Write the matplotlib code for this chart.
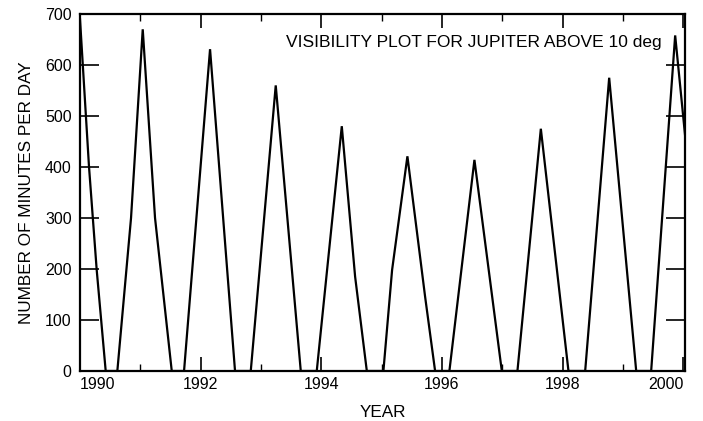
import matplotlib
matplotlib.use("Agg")
import matplotlib.pyplot as plt
from matplotlib.ticker import MultipleLocator

plt.rcParams['font.family'] = ['Liberation Sans', 'DejaVu Sans']

# Data (year, minutes per day)
years = [1990.000, 1990.149, 1990.277, 1990.426,
         1990.619, 1990.846, 1991.040, 1991.244, 1991.521,
         1991.725, 1992.156, 1992.570,
         1992.831, 1993.245, 1993.660,
         1993.925, 1994.340, 1994.561, 1994.755,
         1995.030, 1995.174, 1995.428, 1995.721, 1995.887,
         1996.124, 1996.539, 1996.993,
         1997.252, 1997.640, 1998.098,
         1998.375, 1998.773, 1999.221,
         1999.469, 1999.867, 2000.033]
minutes = [690, 401, 198, 0,
           0, 300, 670, 300, 0,
           0, 631, 0,
           0, 560, 0,
           0, 480, 185, 0,
           0, 198, 421, 146, 0,
           0, 414, 0,
           0, 475, 0,
           0, 575, 0,
           0, 658, 460]

x_ticks = [1990, 1992, 1994, 1996, 1998, 2000]
x_tick_labels = ["1990", "1992", "1994", "1996", "1998", "2000"]
y_ticks = [0, 100, 200, 300, 400, 500, 600, 700]

title_text = "VISIBILITY PLOT FOR JUPITER ABOVE 10 deg"
x_label = "YEAR"
y_label = "NUMBER OF MINUTES PER DAY"

fig = plt.figure(figsize=(7.03, 4.21), dpi=100)
ax = fig.add_axes([80 / 703, 1 - 371 / 421, 605 / 703, 357 / 421])

ax.plot(years, minutes, color='black', lw=1.6, solid_joinstyle='miter')

ax.set_xlim(1990.0, 2000.03)
ax.set_ylim(0, 700)

ax.set_xticks(x_ticks)
ax.set_xticklabels(x_tick_labels)
ax.xaxis.set_minor_locator(MultipleLocator(1))
ax.set_yticks(y_ticks)

ax.tick_params(axis='x', which='major', direction='in', length=10, width=1.2,
               top=True, bottom=True, labelsize=11.5, pad=4)
ax.tick_params(axis='x', which='minor', direction='in', length=5, width=1.0,
               top=True, bottom=True)
ax.tick_params(axis='y', which='major', direction='in', length=14, width=1.2,
               left=True, right=True, labelsize=11.5, pad=6)

labels = ax.get_xticklabels()
labels[0].set_horizontalalignment('left')
labels[-1].set_horizontalalignment('right')

for s in ax.spines.values():
    s.set_linewidth(1.6)

ax.set_xlabel(x_label, fontsize=12.3, labelpad=10)
ax.set_ylabel(y_label, fontsize=12.3, labelpad=8)

ax.text(0.962, 0.919, title_text, transform=ax.transAxes, ha='right',
        va='center', fontsize=12.5)

fig.savefig("out.png", dpi=100)
